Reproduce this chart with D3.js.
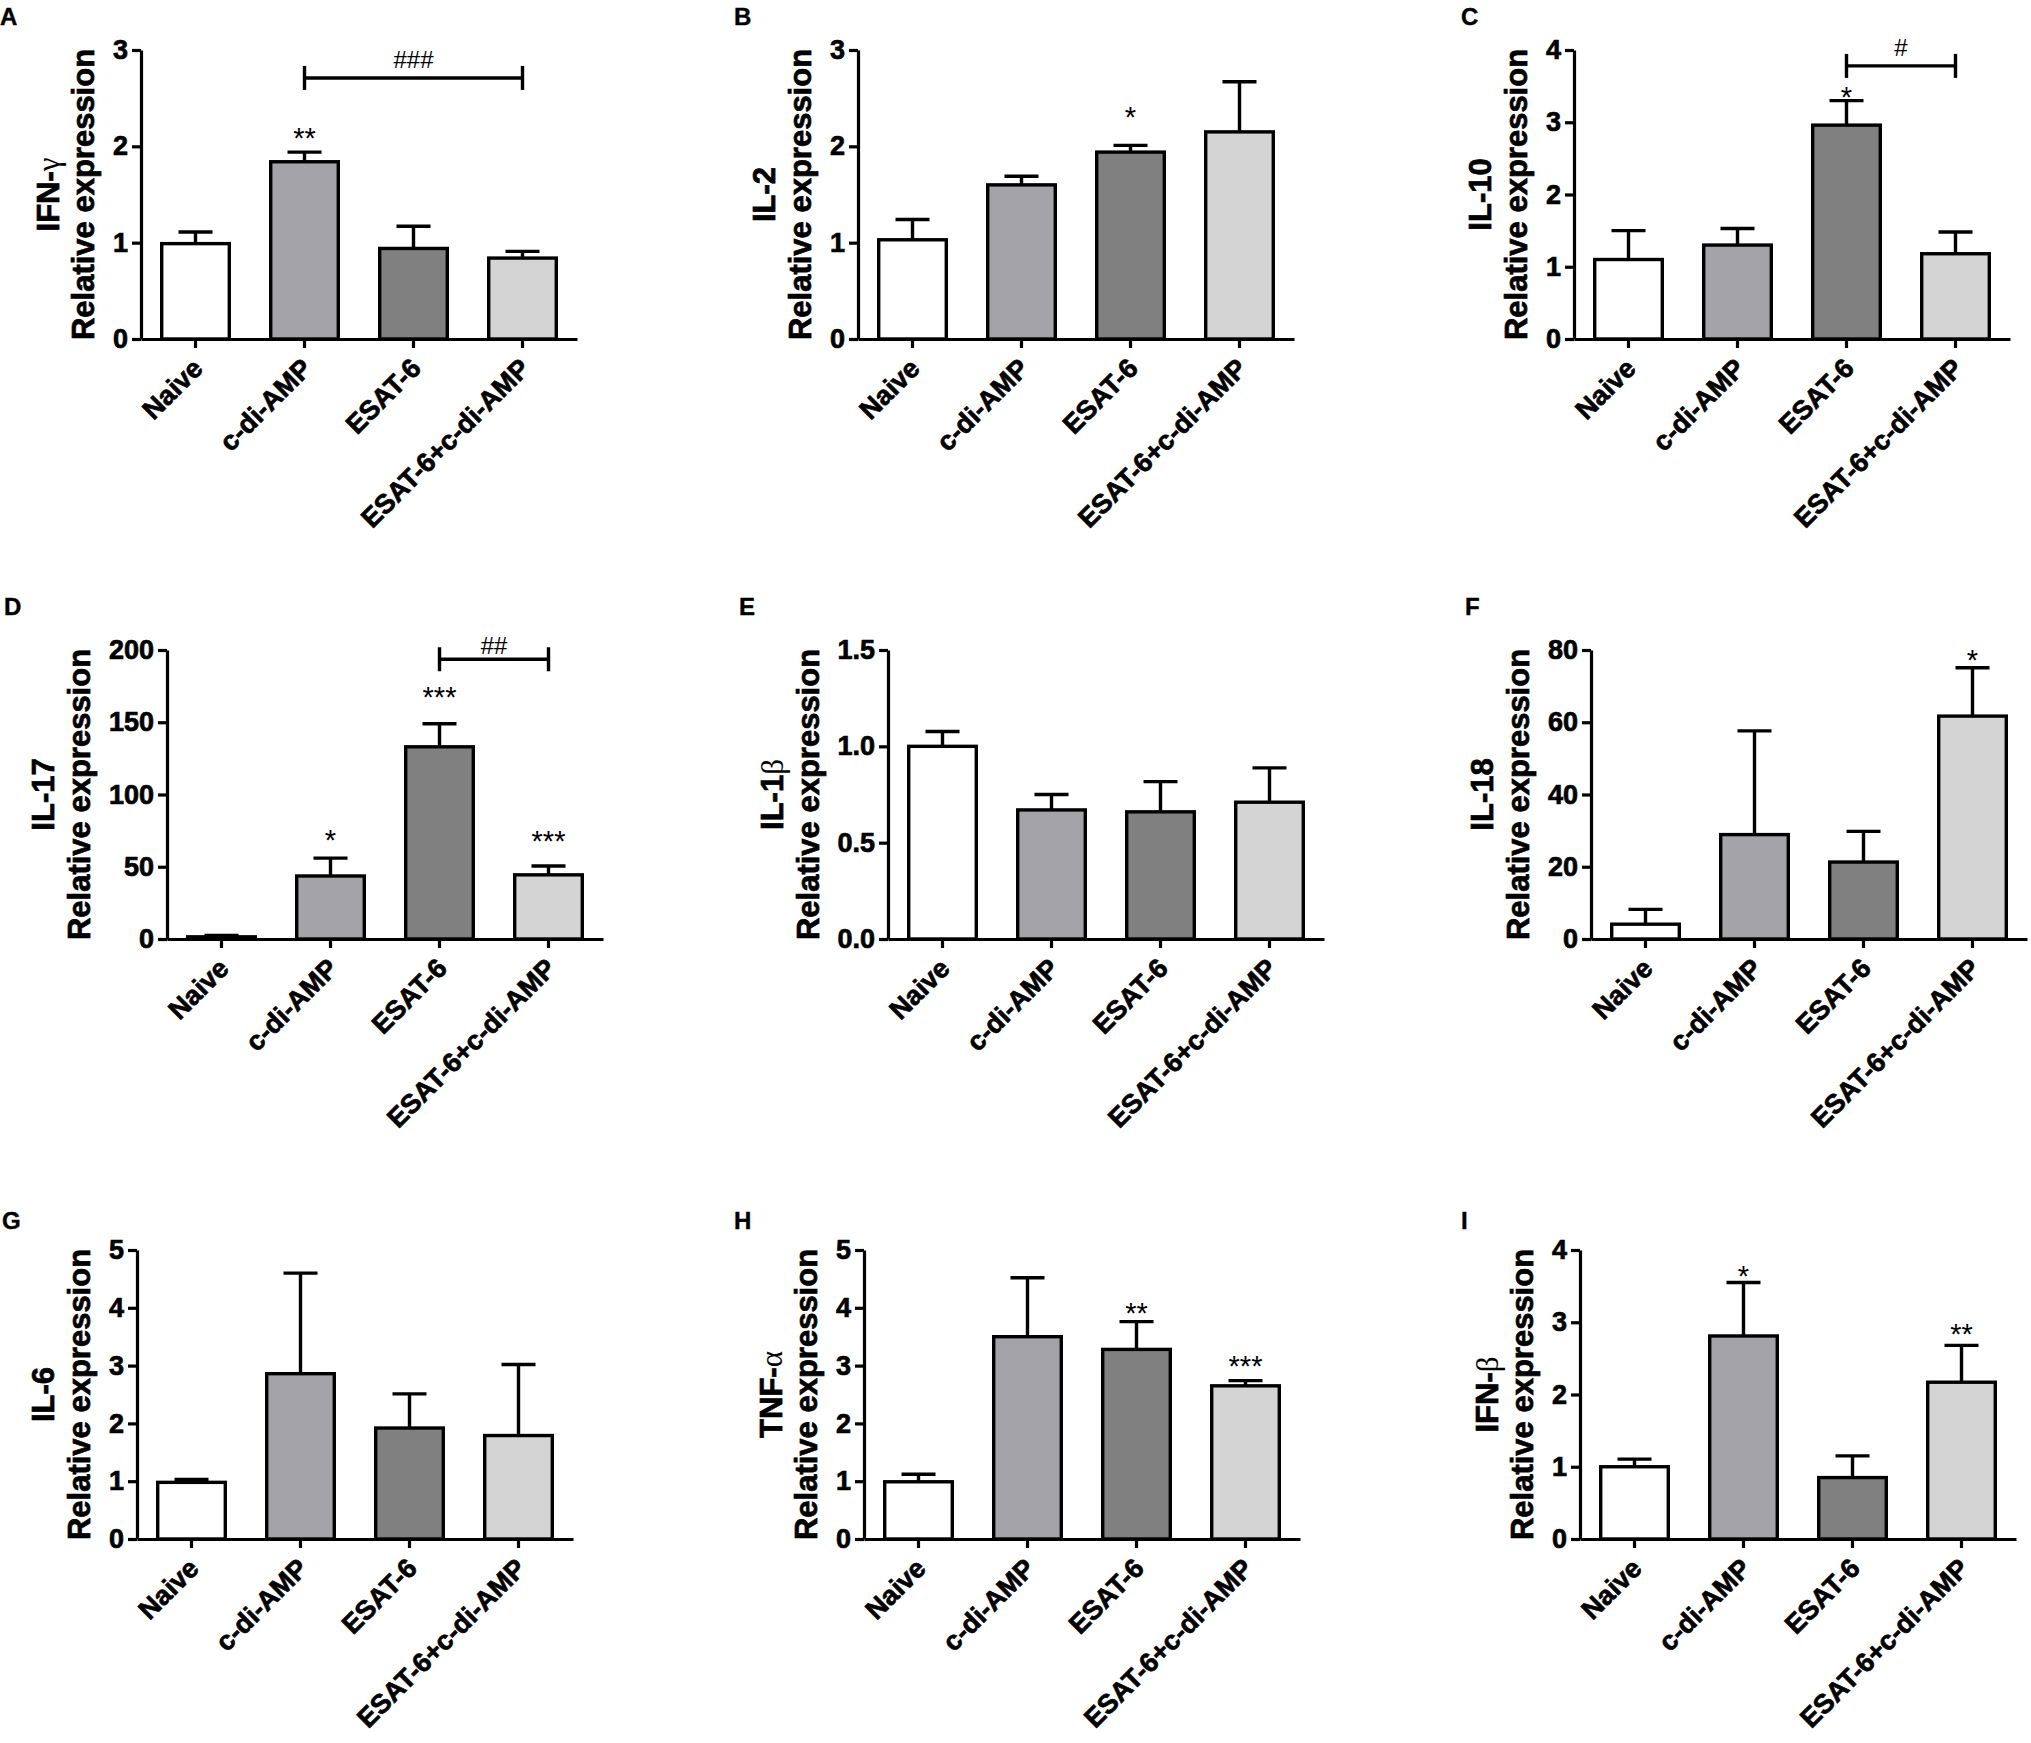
<!DOCTYPE html>
<html>
<head>
<meta charset="utf-8">
<script src="https://cdn.jsdelivr.net/npm/d3@7"></script>
<style>
	body { margin: 0; background: #fff; }
	svg { display: block; font-family: "Liberation Sans", Arial, sans-serif; }
</style>
</head>
<body>
<div id="cytokines"></div>
<script>
// groups on the x axis of every panel
const groups = ["Naive", "c-di-AMP", "ESAT-6", "ESAT-6+c-di-AMP"];
const panelLetters = ["A", "B", "C", "D", "E", "F", "G", "H", "I"];
const genes = ["IFN-γ", "IL-2", "IL-10", "IL-17", "IL-1β", "IL-18", "IL-6", "TNF-α", "IFN-β"];

// mean relative expression per panel (Naive, c-di-AMP, ESAT-6, ESAT-6+c-di-AMP)
const means = [
	[0.99, 1.84, 0.94, 0.84],   // IFN-γ
	[1.03, 1.60, 1.94, 2.15],   // IL-2
	[1.10, 1.30, 2.96, 1.18],   // IL-10
	[1.5, 43.6, 133, 44.4],     // IL-17
	[1.00, 0.67, 0.66, 0.71],   // IL-1β
	[4.1, 28.9, 21.3, 61.7],    // IL-18
	[0.98, 2.86, 1.92, 1.79],   // IL-6
	[0.99, 3.50, 3.28, 2.65],   // TNF-α
	[1.00, 2.81, 0.85, 2.17]    // IFN-β
];
// upper error (SEM)
const errors = [
	[0.12, 0.10, 0.23, 0.07],
	[0.21, 0.09, 0.07, 0.52],
	[0.40, 0.23, 0.34, 0.30],
	[1.0, 12.4, 16, 6.1],
	[0.077, 0.08, 0.157, 0.178],
	[4.1, 28.7, 8.5, 13.4],
	[0.05, 1.74, 0.59, 1.23],
	[0.13, 1.02, 0.48, 0.09],
	[0.105, 0.74, 0.30, 0.51]
];
// y axis top and tick step
const yMax = [3, 3, 4, 200, 1.5, 80, 5, 5, 4];
const yStep = [1, 1, 1, 50, 0.5, 20, 1, 1, 1];

// asterisks vs Naive: [panel, group, label, value of mark]
const stars = [
	[0, 1, "**", 2.15],
	[1, 2, "*", 2.37],
	[2, 2, "*", 3.44],
	[3, 1, "*", 73],
	[3, 2, "***", 172],
	[3, 3, "***", 72],
	[5, 3, "*", 79],
	[7, 2, "**", 4.02],
	[7, 3, "***", 3.10],
	[8, 1, "*", 3.73],
	[8, 3, "**", 2.93]
];
// brackets: [panel, from group, to group, line value, label, label value]
const brackets = [
	[0, 1, 3, 2.71, "###", 2.9],
	[2, 2, 3, 3.78, "#", 4.03],
	[3, 2, 3, 193.6, "##", 203]
];

const fills = ["#ffffff", "#a3a3a8", "#808080", "#d4d4d4"];

// layout
const axisX = [141, 858, 1574, 167, 888, 1591, 137, 864, 1580];
const axisW = 436;
const rowTop = [50, 650, 1250];
const rowBase = [339, 939, 1539];
const letterPos = [[0, 25], [734, 25], [1461, 25], [4, 615], [739, 615], [1465, 615], [2, 1229], [734, 1229], [1461, 1229]];

const svg = d3.select("#cytokines")
	.append("svg")
	.attr("width", 2031)
	.attr("height", 1743);

// heavy bold text like the original export
function heavy(sel, size) {
	sel.attr("font-size", size + "px")
		.attr("font-weight", "bold")
		.attr("fill", "#000")
		.attr("stroke", "#000")
		.attr("stroke-width", 0.7)
		.attr("font-family", "Liberation Sans, Arial, sans-serif");
}

function geneLabel(sel, name) {
	const m = name.match(/^(.*?)([αβγ])$/);
	if (m) {
		sel.append("tspan").text(m[1]);
		sel.append("tspan")
			.attr("font-weight", "normal")
			.attr("stroke-width", 0)
			.attr("font-family", "Liberation Serif, serif")
			.text(m[2]);
	} else {
		sel.text(name);
	}
}

genes.forEach((gene, p) => {
	const row = Math.floor(p / 3);
	const top = rowTop[row], base = rowBase[row];
	const g = svg.append("g").attr("transform", `translate(${axisX[p]},0)`);

	const x = d3.scaleBand()
		.domain(groups)
		.range([0, axisW])
		.paddingInner(0.38)
		.paddingOuter(0.19);
	const y = d3.scaleLinear()
		.domain([0, yMax[p]])
		.range([base, top]);

	const data = groups.map((name, i) => ({ name: name, mean: means[p][i], err: errors[p][i], i: i }));

	// error bars (above only)
	const eb = g.append("g")
		.selectAll("g")
		.data(data)
		.join("g")
		.attr("stroke", "#000")
		.attr("stroke-width", 3.4);
	eb.append("line")
		.attr("x1", d => x(d.name) + x.bandwidth() / 2)
		.attr("x2", d => x(d.name) + x.bandwidth() / 2)
		.attr("y1", d => y(d.mean))
		.attr("y2", d => y(d.mean + d.err));
	eb.append("line")
		.attr("x1", d => x(d.name) + x.bandwidth() / 2 - 17)
		.attr("x2", d => x(d.name) + x.bandwidth() / 2 + 17)
		.attr("y1", d => y(d.mean + d.err))
		.attr("y2", d => y(d.mean + d.err));

	// bars
	g.append("g")
		.selectAll("rect")
		.data(data)
		.join("rect")
		.attr("x", d => x(d.name))
		.attr("y", d => y(d.mean))
		.attr("width", x.bandwidth())
		.attr("height", d => base - y(d.mean))
		.attr("fill", d => fills[d.i])
		.attr("stroke", "#000")
		.attr("stroke-width", 3.4);

	// y axis
	const fmt = yStep[p] < 1 ? d3.format(".1f") : d3.format("d");
	const gy = g.append("g")
		.attr("class", "y-axis")
		.call(d3.axisLeft(y)
			.tickValues(d3.range(0, yMax[p] + yStep[p] / 2, yStep[p]))
			.tickSize(9)
			.tickSizeOuter(0)
			.tickPadding(4)
			.tickFormat(fmt));

	// x axis
	const gx = g.append("g")
		.attr("class", "x-axis")
		.attr("transform", `translate(0,${base})`)
		.call(d3.axisBottom(x).tickSize(9).tickSizeOuter(0));

	g.selectAll(".domain, .tick line")
		.attr("stroke", "#000")
		.attr("stroke-width", 3.2);
	gy.selectAll(".tick text").call(heavy, 27);
	gx.selectAll(".tick text")
		.attr("y", null)
		.attr("dy", null)
		.attr("text-anchor", "end")
		.attr("transform", "translate(9,31) rotate(-45)")
		.call(heavy, 27);

	// axis titles
	const bb = gy.node().getBBox();
	const tx = bb.x - 29;
	const ty = (top + base) / 2;
	g.append("text")
		.attr("transform", `translate(${tx},${ty}) rotate(-90)`)
		.attr("text-anchor", "middle")
		.attr("dominant-baseline", "central")
		.call(heavy, 31)
		.text("Relative expression");
	g.append("text")
		.attr("transform", `translate(${tx - 36},${ty}) rotate(-90)`)
		.attr("text-anchor", "middle")
		.attr("dominant-baseline", "central")
		.call(heavy, 31)
		.call(s => geneLabel(s, gene));

	// significance
	stars.filter(s => s[0] === p).forEach(s => {
		g.append("text")
			.attr("x", x(groups[s[1]]) + x.bandwidth() / 2)
			.attr("y", y(s[3]) + 0.57 * 29)
			.attr("text-anchor", "middle")
			.attr("font-size", "29px")
			.text(s[2]);
	});
	brackets.filter(b => b[0] === p).forEach(b => {
		const x1 = x(groups[b[1]]) + x.bandwidth() / 2;
		const x2 = x(groups[b[2]]) + x.bandwidth() / 2;
		const by = y(b[3]);
		const bg = g.append("g").attr("stroke", "#000").attr("stroke-width", 3.4);
		bg.append("line").attr("x1", x1).attr("x2", x2).attr("y1", by).attr("y2", by);
		bg.append("line").attr("x1", x1).attr("x2", x1).attr("y1", by - 12).attr("y2", by + 12);
		bg.append("line").attr("x1", x2).attr("x2", x2).attr("y1", by - 12).attr("y2", by + 12);
		g.append("text")
			.attr("x", (x1 + x2) / 2)
			.attr("y", y(b[5]) + 0.36 * 24)
			.attr("text-anchor", "middle")
			.attr("font-size", "24px")
			.text(b[4]);
	});

	// panel letter
	svg.append("text")
		.attr("x", letterPos[p][0])
		.attr("y", letterPos[p][1])
		.call(heavy, 24)
		.attr("stroke-width", 0.4)
		.text(panelLetters[p]);
});
</script>
</body>
</html>
